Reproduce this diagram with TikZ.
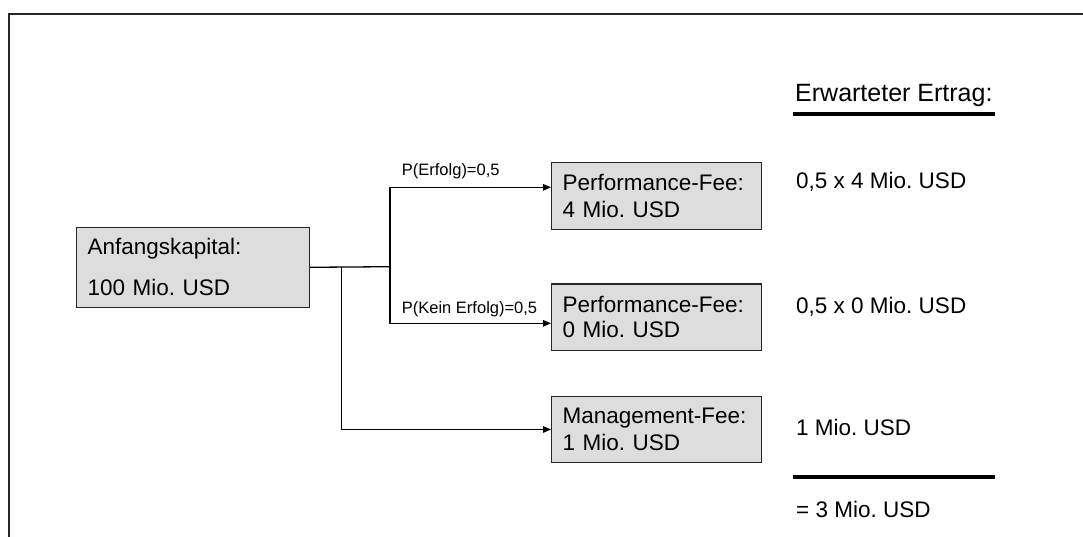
\documentclass[tikz,border=0pt]{standalone}
\usepackage{fontspec}
\setmainfont{Liberation Sans}
\usetikzlibrary{arrows.meta}
\definecolor{boxgray}{HTML}{DDDDDD}
\frenchspacing
\begin{document}
\begin{tikzpicture}[x=1pt,y=-1pt,
  fbox/.style={draw=black!85, line width=1.2pt, fill=boxgray, anchor=north west, align=left,
    inner xsep=11pt, inner ysep=0pt, minimum width=210pt, minimum height=66.4pt, text width=188pt,
    font=\fontsize{22.5}{27.7}\selectfont},
  conn/.style={draw=black, line width=1.3pt},
  arr/.style={conn, -{Triangle[length=8pt,width=6.5pt]}},
  txt/.style={anchor=base west, inner sep=0pt, font=\fontsize{22.5}{27}\selectfont},
  prob/.style={anchor=base west, inner sep=0pt, font=\fontsize{16.5}{20}\selectfont},
  sumrule/.style={line width=3.8pt}
]
\useasboundingbox (0,0) rectangle (1083,537);
% frame
\draw[line width=2pt, black!85] (9,537) -- (9,14.5) -- (1083,14.5);

% boxes
\node[fbox, minimum width=233.3pt, minimum height=80pt, text width=210.7pt,
  font=\fontsize{22.5}{40.7}\selectfont] (a) at (75.7,226.7) {Anfangskapital:\\100 Mio. USD};
\node[fbox] (p1) at (551,162.3) {Performance-Fee:\\4 Mio. USD};
\node[fbox, font=\fontsize{22.5}{25}\selectfont] (p2) at (551,283.3) {Performance-Fee:\\0 Mio. USD};
\node[fbox] (m) at (551,395.7) {Management-Fee:\\1 Mio. USD};

% junctions
\coordinate (j1) at (390,266.7);
\coordinate (j2) at (341.7,266.7);

\draw[conn] (a.east) -- (j1);
\draw[arr] (j1) |- ([yshift=8.8pt]p1.west);
\draw[arr] (j1) |- ([yshift=-6.2pt]p2.west);
\draw[arr] (j2) |- (m.west);

\node[prob] (l1) at (401.7,176) {P(Erfolg)=0,5};
\node[prob] (l2) at (401.7,313.3) {P(Kein Erfolg)=0,5};

% right column
\node[txt, font=\fontsize{25}{30}\selectfont] (h) at (795,101.7) {Erwarteter Ertrag:};
\draw[sumrule] (793.3,114) -- (995,114);
\node[txt] (e1) at (796,189) {0,5 x 4 Mio. USD};
\node[txt] (e2) at (796,313.3) {0,5 x 0 Mio. USD};
\node[txt] (e3) at (796,435) {1 Mio. USD};
\draw[sumrule] (793.3,476.7) -- (995,476.7);
\node[txt] (e4) at (796,517.3) {= 3 Mio. USD};
\end{tikzpicture}
\end{document}
